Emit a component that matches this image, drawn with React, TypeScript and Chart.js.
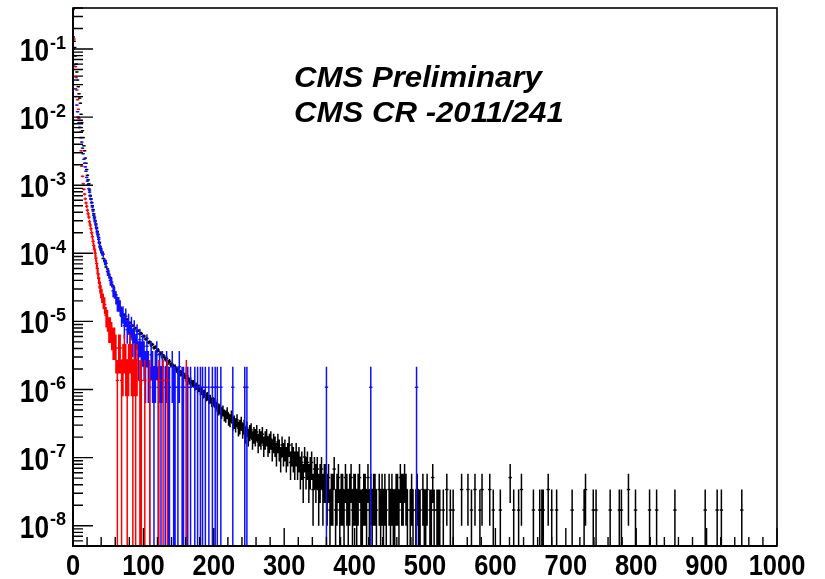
import { useEffect, useRef } from "react";
import { Chart, registerables } from "chart.js";

Chart.register(...registerables);

// Axis ranges
const X_MIN = 0;
const X_MAX = 1000;
const Y_MIN = 5.04e-9;
const Y_MAX = 0.4;

// Weight of a single entry in each histogram
const blackUnit = 1.7e-8;
const blueUnit = 1.08e-6;
const redUnit = 1.36e-6;

// Bins 0..39 (width 1)
const blackHead = [
  1.5e-1, 1.3e-1, 1.05e-1, 7.9e-2, 6.0e-2, 4.6e-2, 3.5e-2, 2.8e-2, 2.2e-2, 1.9e-2,
  1.6e-2, 1.1e-2, 8.3e-3, 6.3e-3, 5.0e-3, 3.8e-3, 3.2e-3, 2.5e-3, 2.1e-3, 1.7e-3,
  1.4e-3, 1.2e-3, 1.05e-3, 8.5e-4, 7.1e-4, 6.3e-4, 5.6e-4, 5.0e-4, 4.4e-4, 3.8e-4,
  3.4e-4, 3.0e-4, 2.7e-4, 2.4e-4, 2.1e-4, 1.9e-4, 1.7e-4, 1.45e-4, 1.26e-4, 1.17e-4,
];
const blueHead = [
  1.0e-1, 5.6e-2, 3.5e-2, 2.6e-2, 2.0e-2, 1.5e-2, 1.2e-2, 1.0e-2, 8.3e-3, 7.1e-3,
  6.0e-3, 5.0e-3, 4.3e-3, 3.5e-3, 2.9e-3, 2.4e-3, 2.1e-3, 1.86e-3, 1.6e-3, 1.3e-3,
  1.15e-3, 1.02e-3, 8.9e-4, 7.9e-4, 6.9e-4, 6.2e-4, 5.5e-4, 4.8e-4, 4.2e-4, 3.6e-4,
  3.2e-4, 2.9e-4, 2.6e-4, 2.3e-4, 2.0e-4, 1.8e-4, 1.6e-4, 1.4e-4, 1.23e-4, 1.12e-4,
];
const redHead = [
  3.8e-1, 1.4e-1, 8.0e-2, 5.5e-2, 3.8e-2, 2.5e-2, 1.8e-2, 1.3e-2, 9.5e-3, 7.0e-3,
  5.0e-3, 3.2e-3, 1.9e-3, 1.35e-3, 1.05e-3, 8.7e-4, 7.4e-4, 6.3e-4, 5.5e-4, 4.9e-4,
  4.3e-4, 3.8e-4, 3.4e-4, 2.9e-4, 2.6e-4, 2.3e-4, 2.0e-4, 1.75e-4, 1.5e-4, 1.3e-4,
  1.15e-4, 1.0e-4, 8.5e-5, 7.1e-5, 6.0e-5, 5.0e-5, 4.3e-5, 3.7e-5, 3.2e-5, 2.8e-5,
];

// Black, width-2 bins from 40 to 200
const blackMid = [
  1.02e-4, 8.4e-5, 7.9e-5, 6.3e-5, 5.9e-5, 4.8e-5, 4.4e-5, 3.5e-5, 3.3e-5, 2.6e-5,
  2.45e-5, 2.0e-5, 1.92e-5, 1.6e-5, 1.52e-5, 1.28e-5, 1.23e-5, 1.08e-5, 1.07e-5, 9.5e-6,
  9.6e-6, 8.6e-6, 8.7e-6, 7.8e-6, 8.0e-6, 7.2e-6, 7.3e-6, 6.6e-6, 6.7e-6, 6.0e-6,
  6.1e-6, 5.5e-6, 5.6e-6, 4.9e-6, 5.0e-6, 4.5e-6, 4.6e-6, 4.1e-6, 4.2e-6, 3.7e-6,
  3.8e-6, 3.3e-6, 3.4e-6, 3.0e-6, 3.1e-6, 2.8e-6, 2.85e-6, 2.5e-6, 2.6e-6, 2.3e-6,
  2.35e-6, 2.1e-6, 2.15e-6, 1.95e-6, 1.88e-6, 1.9e-6, 1.72e-6, 1.74e-6, 1.58e-6, 1.6e-6,
  1.45e-6, 1.48e-6, 1.33e-6, 1.36e-6, 1.22e-6, 1.24e-6, 1.1e-6, 1.13e-6, 1.03e-6, 1.05e-6,
  9.5e-7, 9.6e-7, 8.6e-7, 8.8e-7, 7.8e-7, 8.0e-7, 7.2e-7, 7.3e-7, 6.6e-7, 6.7e-7,
];

// Black entries, width-2 bins from 200 to 520
const blackCounts = [
  38, 33, 36, 30, 31, 27, 29, 25, 24, 27, 22, 21, 24, 19, 20, 18, 21, 16, 17, 19,
  15, 17, 13, 16, 12, 14, 15, 11, 13, 12, 14, 10, 12, 11, 13, 9, 11, 12, 9, 10,
  11, 8, 10, 9, 7, 10, 8, 6, 9, 7, 8, 6, 7, 9, 5, 7, 6, 5, 7, 5,
  6, 4, 5, 3, 6, 4, 5, 3, 4, 5, 2, 4, 3, 4, 2, 3, 4, 2, 3, 3,
  2, 3, 1, 2, 2, 4, 1, 2, 3, 1, 2, 2, 1, 3, 2, 1, 2, 3, 1, 2,
  2, 1, 2, 3, 1, 1, 2, 2, 1, 3, 1, 2, 1, 2, 2, 1, 0, 2, 1, 2,
  1, 2, 1, 0, 2, 1, 2, 1, 1, 2, 2, 1, 3, 2, 2, 3, 2, 1, 0, 1,
  2, 1, 0, 1, 2, 1, 1, 0, 2, 1, 1, 2, 0, 1, 1, 3, 1, 0, 1, 1,
];

// Black isolated entries above 520
const blackTailX = [
  521, 526, 531, 536, 540, 552, 561, 566, 571, 578, 581, 592, 597, 607, 621, 626, 633, 637, 654, 663, 666,
  668, 675, 680, 687, 709, 726, 728, 739, 743, 763, 776, 779, 789, 799, 819, 829, 855, 898, 915, 921, 950,
];
const blackTailN = [
  1, 1, 2, 1, 1, 2, 2, 1, 2, 1, 2, 2, 1, 1, 3, 1, 1, 2, 1, 1, 1,
  1, 2, 1, 1, 1, 1, 2, 1, 1, 1, 1, 1, 2, 1, 1, 1, 1, 1, 1, 1, 1,
];

// Blue entries, width-2 bins from 40 to 170
const blueCounts = [
  95, 90, 70, 66, 50, 46, 37, 35, 26, 25, 21, 17, 17, 15, 11, 12, 8, 11, 7, 9,
  6, 8, 5, 7, 4, 6, 3, 5, 3, 4,
  3, 2, 4, 2, 1, 3, 2, 1, 2, 3, 1, 2, 1, 2, 0, 1, 2, 1, 1, 0,
  2, 1, 1, 0, 1, 2, 0, 1, 1, 0, 1, 1, 0, 1, 0,
];
const blueTailX = [173, 177, 181, 184, 188, 193, 198, 202, 205, 210, 227, 244, 247, 360, 423, 488];
const blueTailN = [1, 1, 1, 1, 1, 1, 1, 1, 1, 1, 1, 1, 1, 1, 1, 1];

// Red entries, width-2 bins from 40 to 100
const redCounts = [
  18, 15, 13, 9, 8, 6, 6, 5, 4, 4, 3, 1, 3, 3, 1, 2, 3, 2, 1, 2,
  3, 2, 1, 2, 1, 2, 0, 1, 1, 0,
];
const redTailX = [102, 109, 122, 128, 134, 161];
const redTailN = [1, 1, 1, 1, 1, 1];

const xTickLabels = ["0", "100", "200", "300", "400", "500", "600", "700", "800", "900", "1000"];
const yDecadeExponents = [-8, -7, -6, -5, -4, -3, -2, -1];

const titleLines = ["CMS Preliminary", "CMS CR -2011/241"];

type Bin = { x: number; y: number; w: number };

function valueBins(values: number[], start: number, width: number): Bin[] {
  return values
    .map((v, i) => ({ x: start + width * (i + 0.5), y: v, w: width }))
    .filter((b) => b.y > 0);
}

function countBins(counts: number[], start: number, width: number, unit: number): Bin[] {
  return counts
    .map((c, i) => ({ x: start + width * (i + 0.5), y: c * unit, w: width }))
    .filter((b) => b.y > 0);
}

function sparseBins(xs: number[], ns: number[], unit: number): Bin[] {
  return xs.map((x, i) => ({ x, y: ns[i] * unit, w: 1 }));
}

const FONT = '"Liberation Sans", Arial, Helvetica, sans-serif';

function drawText(
  ctx: CanvasRenderingContext2D,
  text: string,
  x: number,
  y: number,
  sx: number,
  align: CanvasTextAlign
) {
  ctx.save();
  ctx.translate(x, y);
  ctx.scale(sx, 1);
  ctx.textAlign = align;
  ctx.textBaseline = "alphabetic";
  ctx.fillText(text, 0, 0);
  ctx.restore();
}

// Poisson error bars drawn right after each histogram
const errorBarsPlugin = {
  id: "errorBars",
  afterDatasetDraw(chart: any, args: any) {
    const ds = chart.data.datasets[args.index];
    const { ctx, chartArea } = chart;
    const xs = chart.scales.x;
    const ys = chart.scales.y;
    ctx.save();
    ctx.beginPath();
    ctx.rect(chartArea.left, chartArea.top, chartArea.right - chartArea.left, chartArea.bottom - chartArea.top);
    ctx.clip();
    ctx.strokeStyle = ds.borderColor;
    ctx.lineWidth = ds.errWidth;
    ctx.beginPath();
    for (const b of ds.data as Bin[]) {
      const n = b.y / ds.unit;
      const e = ds.unit * Math.sqrt(n);
      const lo = b.y - e;
      const hi = b.y + e;
      const px = xs.getPixelForValue(b.x);
      const pyLo = lo > Y_MIN ? ys.getPixelForValue(lo) : chartArea.bottom;
      const pyHi = ys.getPixelForValue(hi);
      const py = ys.getPixelForValue(b.y);
      ctx.moveTo(px, pyLo);
      ctx.lineTo(px, pyHi);
      ctx.moveTo(xs.getPixelForValue(b.x - b.w / 2), py);
      ctx.lineTo(xs.getPixelForValue(b.x + b.w / 2), py);
    }
    ctx.stroke();
    ctx.restore();
  },
};

// Frame, inward ticks, exponent labels and the header text
const framePlugin = {
  id: "rootFrame",
  afterDraw(chart: any) {
    const { ctx, chartArea } = chart;
    const xs = chart.scales.x;
    const ys = chart.scales.y;
    const { left, right, top, bottom } = chartArea;
    ctx.save();
    ctx.strokeStyle = "#000";

    // ticks on the log axis
    ctx.lineWidth = 1.4;
    ctx.beginPath();
    for (let e = -9; e <= 0; e++) {
      for (let m = 1; m <= 9; m++) {
        const v = m * Math.pow(10, e);
        if (v < Y_MIN || v > Y_MAX) continue;
        const y = ys.getPixelForValue(v);
        const len = m === 1 ? 20 : 10;
        ctx.moveTo(left, y);
        ctx.lineTo(left + len, y);
      }
    }
    // ticks on the x axis
    for (let v = X_MIN; v <= X_MAX; v += 20) {
      const x = xs.getPixelForValue(v);
      const len = v % 100 === 0 ? 18 : 9;
      ctx.moveTo(x, bottom);
      ctx.lineTo(x, bottom - len);
    }
    ctx.stroke();

    // frame
    ctx.lineWidth = 1.6;
    ctx.strokeRect(left, top, right - left, bottom - top);
    ctx.lineWidth = 2;
    ctx.beginPath();
    ctx.moveTo(left, top);
    ctx.lineTo(left, bottom);
    ctx.lineTo(right, bottom);
    ctx.stroke();

    ctx.fillStyle = "#000";
    // y labels: 10 with superscript exponent
    for (const e of yDecadeExponents) {
      const y = ys.getPixelForValue(Math.pow(10, e));
      const sup = String(e);
      ctx.font = `bold 18px ${FONT}`;
      const supW = ctx.measureText(sup).width;
      drawText(ctx, sup, 66, y - 0.5, 1, "right");
      ctx.font = `bold 32px ${FONT}`;
      drawText(ctx, "10", 66 - supW - 1, y + 12, 0.82, "right");
    }
    // x labels
    ctx.font = `bold 30px ${FONT}`;
    xTickLabels.forEach((t) => {
      const x = xs.getPixelForValue(Number(t));
      drawText(ctx, t, x, 575, 0.85, "center");
    });

    // header
    ctx.font = `italic bold 29px ${FONT}`;
    drawText(ctx, titleLines[0], 294, 87, 1.075, "left");
    drawText(ctx, titleLines[1], 294, 122, 1.075, "left");
    ctx.restore();
  },
};

export default function App() {
  const canvasRef = useRef<HTMLCanvasElement | null>(null);

  useEffect(() => {
    const canvas = canvasRef.current;
    if (!canvas) return;

    const black = [
      ...valueBins(blackHead, 0, 1),
      ...valueBins(blackMid, 40, 2),
      ...countBins(blackCounts, 200, 2, blackUnit),
      ...sparseBins(blackTailX, blackTailN, blackUnit),
    ];
    const blue = [
      ...valueBins(blueHead, 0, 1),
      ...countBins(blueCounts, 40, 2, blueUnit),
      ...sparseBins(blueTailX, blueTailN, blueUnit),
    ];
    const red = [
      ...valueBins(redHead, 0, 1),
      ...countBins(redCounts, 40, 2, redUnit),
      ...sparseBins(redTailX, redTailN, redUnit),
    ];

    const common = {
      showLine: false,
      pointStyle: "line",
      pointRadius: 1.7,
      pointBorderWidth: 1.4,
      pointHoverRadius: 0,
      errWidth: 1.5,
    };

    // Later entries are painted first: black, then blue, then red on top
    const chart = new Chart(canvas, {
      type: "line",
      data: {
        datasets: [
          { label: "red", data: red, borderColor: "#ff0000", backgroundColor: "#ff0000", unit: redUnit, ...common } as any,
          { label: "blue", data: blue, borderColor: "#1010ff", backgroundColor: "#1010ff", unit: blueUnit, ...common } as any,
          { label: "black", data: black, borderColor: "#000000", backgroundColor: "#000000", unit: blackUnit, ...common } as any,
        ],
      },
      options: {
        animation: false,
        responsive: false,
        events: [],
        parsing: false as any,
        layout: { padding: { left: 73, right: 48, top: 8, bottom: 33 } },
        scales: {
          x: { type: "linear", min: X_MIN, max: X_MAX, display: false },
          y: { type: "logarithmic", min: Y_MIN, max: Y_MAX, display: false },
        },
        plugins: {
          legend: { display: false },
          tooltip: { enabled: false },
        },
      },
      plugins: [errorBarsPlugin, framePlugin],
    });

    return () => chart.destroy();
  }, []);

  return (
    <div style={{ position: "fixed", left: 0, top: 0, width: 825, height: 579, background: "#fff" }}>
      <canvas ref={canvasRef} width={825} height={579} style={{ display: "block" }} />
    </div>
  );
}
